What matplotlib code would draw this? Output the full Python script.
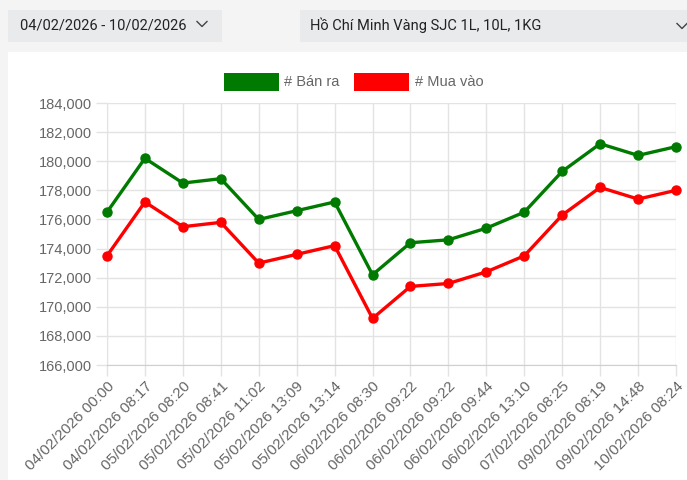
import matplotlib
matplotlib.use("Agg")
import matplotlib.pyplot as plt
from matplotlib.patches import Rectangle
from matplotlib.lines import Line2D
from matplotlib.ticker import FuncFormatter

labels = ["04/02/2026 00:00", "04/02/2026 08:17", "05/02/2026 08:20", "05/02/2026 08:41",
          "05/02/2026 11:02", "05/02/2026 13:09", "05/02/2026 13:14", "06/02/2026 08:30",
          "06/02/2026 09:22", "06/02/2026 09:22", "06/02/2026 09:44", "06/02/2026 13:10",
          "07/02/2026 08:25", "09/02/2026 08:19", "09/02/2026 14:48", "10/02/2026 08:24"]
ban_ra = [176500, 180200, 178500, 178800, 176000, 176600, 177200, 172200,
          174400, 174600, 175400, 176500, 179300, 181200, 180400, 181000]
mua_vao = [173500, 177200, 175500, 175800, 173000, 173600, 174200, 169200,
           171400, 171600, 172400, 173500, 176300, 178200, 177400, 178000]
y_ticks = list(range(166000, 184001, 2000))
date_range = "04/02/2026 - 10/02/2026"
location = "Hồ Chí Minh Vàng SJC 1L, 10L, 1KG"
series_names = ["# Bán ra", "# Mua vào"]

W, H = 687, 480
plt.rcParams['font.family'] = ['Liberation Sans', 'DejaVu Sans']
fig = plt.figure(figsize=(W / 100, H / 100), dpi=100)
fig.patch.set_facecolor('#f4f4f4')

def fx(px):
    return px / W

def fy(py):
    return 1 - py / H

# white panel
fig.patches.append(Rectangle((fx(8), 0), fx(W - 8), fy(52), transform=fig.transFigure,
                             facecolor='white', edgecolor='none', zorder=-5))
# dropdown boxes
fig.patches.append(Rectangle((fx(8), fy(42)), fx(214), 32 / H, transform=fig.transFigure,
                             facecolor='#e9eaec', edgecolor='none', zorder=-4))
fig.patches.append(Rectangle((fx(300), fy(42)), fx(387), 32 / H, transform=fig.transFigure,
                             facecolor='#e9eaec', edgecolor='none', zorder=-4))
fig.text(fx(20), fy(25), date_range, fontsize=10.5, family=['Roboto', 'DejaVu Sans'],
         color='#222222', va='center', ha='left')
fig.text(fx(310), fy(25), location, fontsize=10.5, family=['Roboto', 'DejaVu Sans'],
         color='#222222', va='center', ha='left')

def chevron(cx, cy):
    fig.lines.append(Line2D([fx(cx - 5), fx(cx), fx(cx + 5)], [fy(cy - 2.5), fy(cy + 2.5), fy(cy - 2.5)],
                            transform=fig.transFigure, color='#444444', lw=1.0))
chevron(202, 24)
chevron(682, 26)

# legend
fig.patches.append(Rectangle((fx(224), fy(91)), fx(55), 18 / H, transform=fig.transFigure,
                             facecolor='#007a00', edgecolor='none'))
fig.text(fx(284), fy(82), series_names[0], fontsize=10.5, color='#666666', va='center', ha='left')
fig.patches.append(Rectangle((fx(354), fy(91)), fx(55), 18 / H, transform=fig.transFigure,
                             facecolor='#ff0000', edgecolor='none'))
fig.text(fx(415), fy(82), series_names[1], fontsize=10.5, color='#666666', va='center', ha='left')

ax = fig.add_axes([fx(107), fy(365), fx(676 - 107), (365 - 103) / H])
ax.set_zorder(5)
ax.set_facecolor('none')
x = list(range(len(labels)))
ax.plot(x, ban_ra, color='#007a00', lw=2.4, marker='o', ms=6.5, clip_on=False, zorder=3)
ax.plot(x, mua_vao, color='#ff0000', lw=2.4, marker='o', ms=6.5, clip_on=False, zorder=3)
ax.set_xlim(0, len(labels) - 1)
ax.set_ylim(y_ticks[0], y_ticks[-1])
ax.set_yticks(y_ticks)
ax.yaxis.set_major_formatter(FuncFormatter(lambda v, p: f"{int(v):,}"))
ax.set_xticks(x)
ax.set_xticklabels(labels, rotation=45, ha='right', rotation_mode='anchor')
ax.grid(True, color='#e3e3e3', lw=1)
ax.set_axisbelow(True)
for s in ['top', 'right']:
    ax.spines[s].set_visible(False)
ax.spines['left'].set_color('#e3e3e3')
ax.spines['bottom'].set_color('#cfcfcf')
ax.tick_params(axis='both', colors='#e3e3e3', length=8, width=1, labelcolor='#666666')
ax.tick_params(axis='y', pad=3, labelsize=10.5)
ax.tick_params(axis='x', pad=2, labelsize=11)

fig.savefig('out.png', dpi=100, facecolor=fig.get_facecolor())
